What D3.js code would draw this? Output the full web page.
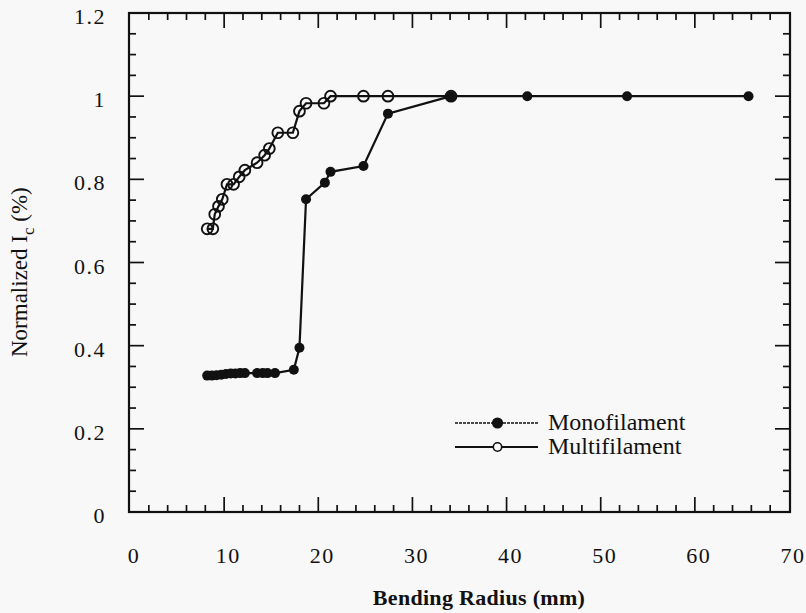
<!DOCTYPE html>
<html>
<head>
<meta charset="utf-8">
<script src="https://cdn.jsdelivr.net/npm/d3@7"></script>
<style>
  body { margin: 0; background: #f8f8f8; }
  svg { display: block; }
  text { font-family: "Liberation Serif", "DejaVu Serif", serif; fill: #111; }
</style>
</head>
<body>
<svg id="chart" width="806" height="613"></svg>
<script>
// bending radius (mm) and normalized Ic for each tape
const monoRadius = [8.2, 8.7, 9.2, 9.7, 10.2, 10.7, 11.2, 11.7, 12.2, 13.5, 14.1, 14.6, 15.4, 17.4, 18.0, 18.7, 20.7, 21.3, 24.8, 27.4, 34.1, 42.2, 52.8, 65.7];
const monoIc = [0.328, 0.328, 0.329, 0.330, 0.332, 0.333, 0.333, 0.334, 0.334, 0.334, 0.334, 0.334, 0.334, 0.342, 0.395, 0.752, 0.792, 0.818, 0.832, 0.958, 1.0, 1.0, 1.0, 1.0];

const multiRadius = [8.2, 8.8, 9.0, 9.4, 9.8, 10.3, 11.0, 11.6, 12.2, 13.5, 14.3, 14.8, 15.7, 17.3, 18.0, 18.7, 20.6, 21.3, 24.8, 27.4, 34.1];
const multiIc = [0.681, 0.681, 0.716, 0.735, 0.752, 0.788, 0.788, 0.806, 0.822, 0.840, 0.858, 0.874, 0.912, 0.912, 0.964, 0.983, 0.983, 1.0, 1.0, 1.0, 1.0];

const xTicks = [0, 10, 20, 30, 40, 50, 60, 70];
const yTicks = [0, 0.2, 0.4, 0.6, 0.8, 1, 1.2];
const legendNames = ['Monofilament', 'Multifilament'];

const svg = d3.select('#chart');
const plotL = 129, plotR = 790, plotT = 13, plotB = 512;

const x = d3.scaleLinear().domain([0, 70]).range([130, 789]);
const y = d3.scaleLinear().domain([0, 1.2]).range([plotB, plotT]);

// frame
svg.append('rect')
  .attr('x', plotL).attr('y', plotT)
  .attr('width', plotR - plotL).attr('height', plotB - plotT)
  .attr('fill', 'none').attr('stroke', '#111').attr('stroke-width', 2.2);

// inward ticks on all four sides, majors and minors
const xMinor = d3.range(0, 70.01, 2).filter(v => v % 10 !== 0);
const yMinor = d3.range(0, 1.201, 0.05).filter(v => Math.abs(v * 5 - Math.round(v * 5)) > 1e-6);

function tickLines(values, len, horizontal) {
  const g = svg.append('g').attr('stroke', '#111').attr('stroke-width', 1.7);
  values.forEach(v => {
    if (horizontal) {
      const px = x(v);
      g.append('line').attr('x1', px).attr('x2', px).attr('y1', plotB).attr('y2', plotB - len);
      g.append('line').attr('x1', px).attr('x2', px).attr('y1', plotT).attr('y2', plotT + len);
    } else {
      const py = y(v);
      g.append('line').attr('y1', py).attr('y2', py).attr('x1', plotL).attr('x2', plotL + len);
      g.append('line').attr('y1', py).attr('y2', py).attr('x1', plotR).attr('x2', plotR - len);
    }
  });
}
tickLines(xTicks.slice(1, -1), 15, true);
tickLines(xMinor, 7, true);
tickLines(yTicks.slice(1, -1), 15, false);
tickLines(yMinor, 7, false);

// tick labels
svg.append('g').selectAll('text')
  .data(xTicks).enter().append('text')
  .attr('x', d => x(d) + 4)
  .attr('y', 563)
  .attr('text-anchor', 'middle')
  .attr('font-size', 22)
  .attr('letter-spacing', 1.5)
  .text(d => d);

svg.append('g').selectAll('text')
  .data(yTicks).enter().append('text')
  .attr('x', 106)
  .attr('y', d => y(d) + 11)
  .attr('text-anchor', 'end')
  .attr('font-size', 22)
  .attr('letter-spacing', 1.5)
  .text(d => d);

// axis titles
svg.append('text')
  .attr('x', 479).attr('y', 605)
  .attr('text-anchor', 'middle')
  .attr('font-size', 22)
  .attr('font-weight', 'bold')
  .attr('letter-spacing', 0.3)
  .text('Bending Radius (mm)');

const yTitle = svg.append('text')
  .attr('transform', 'translate(27,357) rotate(-90)')
  .attr('text-anchor', 'start')
  .attr('font-size', 23);
yTitle.append('tspan').text('Normalized I');
yTitle.append('tspan').attr('dy', 7).attr('font-size', 17).text('c');
yTitle.append('tspan').attr('dy', -7).text(' (%)');

// series
const line = d3.line().x(d => x(d[0])).y(d => y(d[1]));
const mono = monoRadius.map((r, i) => [r, monoIc[i]]);
const multi = multiRadius.map((r, i) => [r, multiIc[i]]);

svg.append('path').datum(multi)
  .attr('d', line).attr('fill', 'none').attr('stroke', '#111').attr('stroke-width', 2.2);
svg.append('g').selectAll('circle')
  .data(multi).enter().append('circle')
  .attr('cx', d => x(d[0])).attr('cy', d => y(d[1])).attr('r', 5.4)
  .attr('fill', 'none').attr('stroke', '#111').attr('stroke-width', 1.9);

svg.append('path').datum(mono)
  .attr('d', line).attr('fill', 'none').attr('stroke', '#111').attr('stroke-width', 2.2);
svg.append('g').selectAll('circle')
  .data(mono).enter().append('circle')
  .attr('cx', d => x(d[0])).attr('cy', d => y(d[1])).attr('r', 5)
  .attr('fill', '#111');

// legend
const legend = svg.append('g');
legendNames.forEach((name, i) => {
  const ly = 423 + i * 24;
  legend.append('line')
    .attr('x1', 455).attr('x2', 538).attr('y1', ly).attr('y2', ly)
    .attr('stroke', '#111').attr('stroke-width', i === 0 ? 1.3 : 1.9)
    .attr('stroke-dasharray', i === 0 ? '3,1' : null);
  legend.append('circle')
    .attr('cx', 497.5).attr('cy', ly).attr('r', i === 0 ? 4.8 : 4.2)
    .attr('fill', i === 0 ? '#111' : '#f8f8f8')
    .attr('stroke', '#111').attr('stroke-width', 1.6);
  legend.append('text')
    .attr('x', 548).attr('y', ly + 7)
    .attr('font-size', 24)
    .text(name);
});
</script>
</body>
</html>
